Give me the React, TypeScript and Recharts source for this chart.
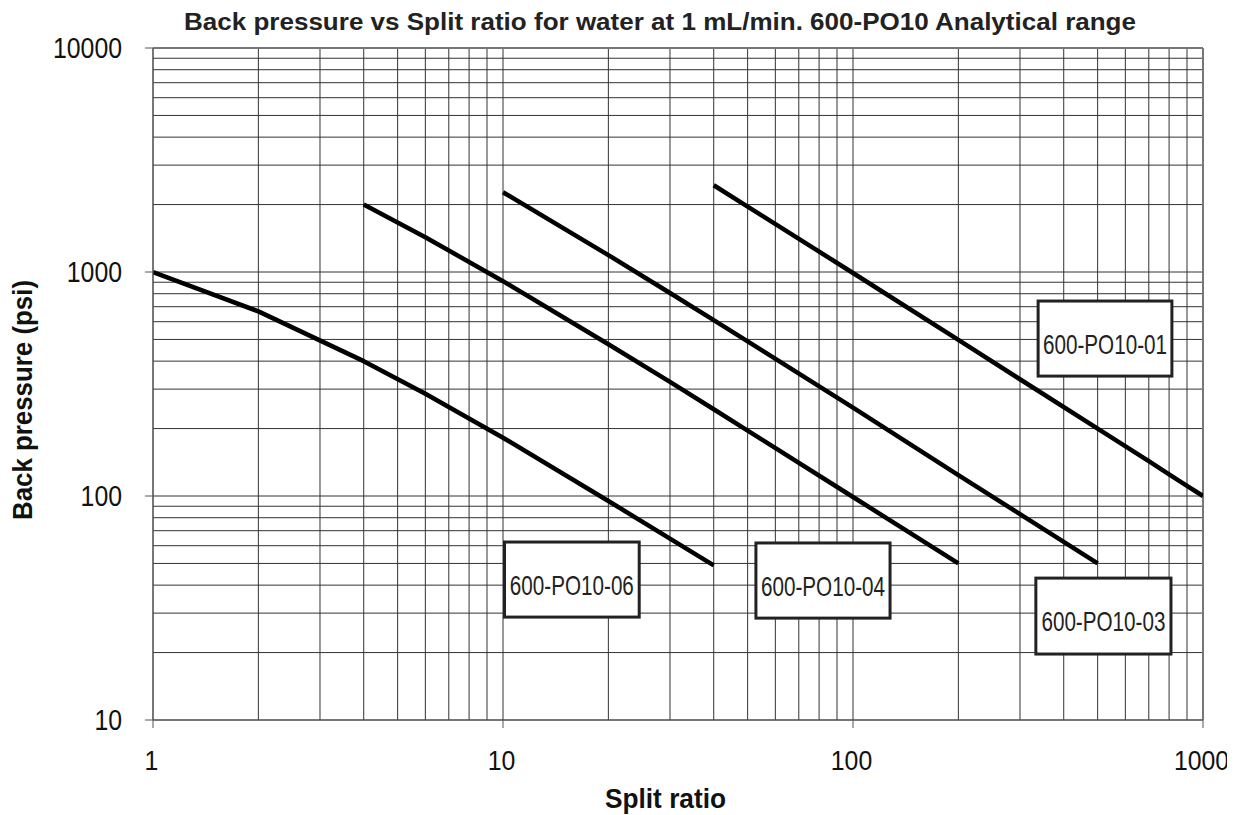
import React from 'react';
import { LineChart, Line, XAxis, YAxis, ReferenceLine, ReferenceArea } from 'recharts';

const FONT = "'Liberation Sans', Arial, Helvetica, sans-serif";

// Series: split ratio (x) and back pressure in psi (y)
const SPLIT_06 = [1, 2, 4, 6, 10, 20, 40];
const BP_06 = [1000, 667, 400, 286, 182, 95, 49];

const SPLIT_04 = [4, 6, 10, 20, 30, 40, 50, 100, 200];
const BP_04 = [2000, 1430, 910, 476, 323, 244, 196, 99, 50];

const SPLIT_03 = [10, 20, 30, 40, 50, 100, 200, 300, 500];
const BP_03 = [2270, 1190, 806, 610, 490, 248, 124, 83, 50];

const SPLIT_01 = [40, 50, 100, 200, 300, 500, 700, 800, 900, 1000];
const BP_01 = [2440, 1960, 990, 498, 332, 200, 143, 125, 111, 100];

// Axis ticks
const X_TICKS = [1, 10, 100, 1000];
const Y_TICKS = [10, 100, 1000, 10000];
const X_GRID = [1, 2, 3, 4, 5, 6, 7, 8, 9, 10, 20, 30, 40, 50, 60, 70, 80, 90, 100, 200, 300, 400, 500, 600, 700, 800, 900, 1000];
const Y_GRID = [10, 20, 30, 40, 50, 60, 70, 80, 90, 100, 200, 300, 400, 500, 600, 700, 800, 900, 1000, 2000, 3000, 4000, 5000, 6000, 7000, 8000, 9000, 10000];

// Label boxes (in data units)
const LABELS = ['600-PO10-06', '600-PO10-04', '600-PO10-03', '600-PO10-01'];
const BOX_X1 = [10.1, 52.8, 333, 338];
const BOX_X2 = [24.5, 127.6, 810, 815];
const BOX_Y1 = [62.3, 61.7, 43.0, 742];
const BOX_Y2 = [28.8, 28.5, 19.7, 343];

const toData = (xs: number[], ys: number[]) => xs.map((x, i) => ({ split: x, bp: ys[i] }));

const SERIES = [
  { name: '600-PO10-06', data: toData(SPLIT_06, BP_06) },
  { name: '600-PO10-04', data: toData(SPLIT_04, BP_04) },
  { name: '600-PO10-03', data: toData(SPLIT_03, BP_03) },
  { name: '600-PO10-01', data: toData(SPLIT_01, BP_01) },
];

const XTick = (props: any) => {
  const { x, y, payload } = props;
  const s = String(payload.value);
  return (
    <text x={x - 1.5} y={y + 40} textAnchor="middle" fontFamily={FONT} fontSize={28} fill="#111"
      textLength={s.length * 13.8} lengthAdjust="spacingAndGlyphs">{s}</text>
  );
};

const YTick = (props: any) => {
  const { x, y, payload } = props;
  const s = String(payload.value);
  return (
    <text x={x - 6} y={y + 10} textAnchor="end" fontFamily={FONT} fontSize={29} fill="#111"
      textLength={s.length * 13.8} lengthAdjust="spacingAndGlyphs">{s}</text>
  );
};

const makeBox = (label: string) => (props: any) => {
  const { x, y, width, height } = props;
  return (
    <g>
      <rect x={x} y={y} width={width} height={height} fill="#fff" stroke="#222" strokeWidth={3} />
      <text x={x + width / 2} y={y + 53} textAnchor="middle" fontFamily={FONT} fontSize={28} fill="#222"
        textLength={124} lengthAdjust="spacingAndGlyphs">{label}</text>
    </g>
  );
};

export default function App() {
  const W = 1227;
  const H = 807;
  return (
    <div style={{ position: 'relative', width: W, height: H }}>
      <LineChart width={W} height={H} margin={{ top: 40, right: 32, left: 0, bottom: 0 }} style={{ overflow: 'visible' }}>
        <XAxis
          dataKey="split"
          type="number"
          scale="log"
          domain={[1, 1000]}
          ticks={X_TICKS}
          allowDataOverflow
          height={95}
          stroke="#555"
          tickSize={8}
          tickMargin={2}
          tick={<XTick />}
        />
        <YAxis
          dataKey="bp"
          type="number"
          scale="log"
          domain={[10, 10000]}
          ticks={Y_TICKS}
          allowDataOverflow
          width={145}
          stroke="#555"
          tickSize={8}
          tickMargin={17}
          tick={<YTick />}
        />
        {X_GRID.map((v) => (
          <ReferenceLine key={'gx' + v} x={v} stroke="#333" strokeWidth={1} zIndex={-50} />
        ))}
        {Y_GRID.map((v) => (
          <ReferenceLine key={'gy' + v} y={v} stroke="#333" strokeWidth={1} zIndex={-50} />
        ))}
        <ReferenceLine y={10000} stroke="#777" strokeWidth={2} zIndex={-40} />
        <ReferenceLine x={1000} stroke="#777" strokeWidth={2} zIndex={-40} />
        {SERIES.map((s) => (
          <Line
            key={s.name}
            data={s.data}
            dataKey="bp"
            name={s.name}
            type="linear"
            stroke="#000"
            strokeWidth={4.5}
            dot={false}
            activeDot={false}
            strokeLinejoin="round"
            isAnimationActive={false}
          />
        ))}
        {LABELS.map((lab, i) => (
          <ReferenceArea
            key={lab}
            x1={BOX_X1[i]}
            x2={BOX_X2[i]}
            y1={BOX_Y1[i]}
            y2={BOX_Y2[i]}
            zIndex={800}
            shape={makeBox(lab)}
          />
        ))}
      </LineChart>
      <svg width={W} height={H} style={{ position: 'absolute', left: 0, top: 0, pointerEvents: 'none' }}>
        <text x={652} y={22} textAnchor="middle" fontFamily={FONT} fontWeight="bold" fontSize={23} fill="#222"
          textLength={952} lengthAdjust="spacingAndGlyphs">
          Back pressure vs Split ratio for water at 1 mL/min. 600-PO10 Analytical range
        </text>
        <text x={657.5} y={800} textAnchor="middle" fontFamily={FONT} fontWeight="bold" fontSize={27} fill="#111"
          textLength={121} lengthAdjust="spacingAndGlyphs">
          Split ratio
        </text>
        <text x={24} y={392} transform="rotate(-90 24 392)" textAnchor="middle" fontFamily={FONT} fontWeight="bold"
          fontSize={28} fill="#111" textLength={240} lengthAdjust="spacingAndGlyphs">
          Back pressure (psi)
        </text>
      </svg>
    </div>
  );
}
